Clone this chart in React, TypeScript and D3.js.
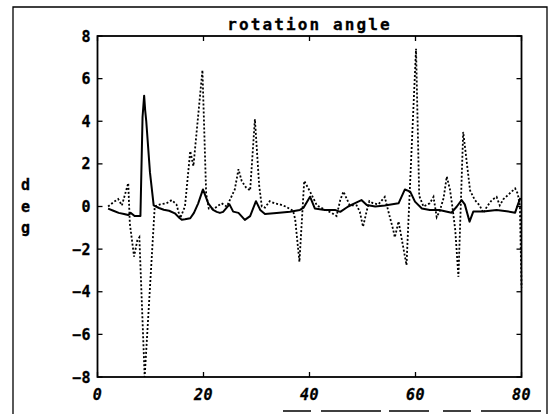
import React from "react";
import * as d3 from "d3";

const title = "rotation angle";
const yLabel = ["d", "e", "g"];
const xTicks = [0, 20, 40, 60, 80];
const yTicks = [-8, -6, -4, -2, 0, 2, 4, 6, 8];

const solidX = [2, 3, 4, 5, 5.8, 6.3, 7, 8, 8.1, 8.5, 8.8, 9.0, 9.2, 9.9, 10.6, 11.6, 12.5, 13.5, 14.6, 15.3, 15.9, 16.5, 17.5, 18.2, 19, 19.9, 20.9, 21.8, 22.5, 23.1, 23.7, 24.9, 25.6, 26.6, 27.8, 28.8, 29.9, 30.7, 31.6, 33.8, 36.3, 38.2, 38.9, 40.1, 41, 42.9, 44.8, 45.8, 47.3, 48.5, 49.8, 50.8, 52.4, 54.2, 56.8, 58, 59, 59.9, 61.2, 62.7, 64.5, 66.8, 67.8, 68.7, 69.3, 70.2, 70.9, 72.8, 75.3, 77.2, 78.8, 79.4, 79.8];
const solidY = [-0.1, -0.2, -0.3, -0.35, -0.4, -0.3, -0.45, -0.45, -0.45, 4.2, 5.2, 4.5, 4.0, 1.6, 0.05, -0.07, -0.15, -0.2, -0.32, -0.5, -0.62, -0.6, -0.55, -0.3, 0.15, 0.8, 0.15, -0.16, -0.25, -0.3, -0.25, 0.1, -0.24, -0.3, -0.63, -0.45, 0.25, -0.16, -0.35, -0.3, -0.25, -0.16, -0.05, 0.46, -0.09, -0.16, -0.16, -0.25, 0, 0.15, 0.3, 0.07, 0, 0.05, 0.15, 0.8, 0.7, 0.23, -0.09, -0.16, -0.16, -0.29, 0, 0.3, 0.1, -0.71, -0.24, -0.24, -0.16, -0.22, -0.29, 0.15, 0.4];

const dottedX = [2, 3, 3.9, 4.6, 5.8, 6.1, 6.9, 7.5, 7.9, 8.9, 9.9, 10.8, 11.8, 13, 14, 14.9, 15.6, 16.5, 17.5, 18.1, 19.8, 20.5, 21, 22, 23.4, 24.4, 25.9, 26.6, 27.2, 28, 28.8, 29.7, 30.5, 31, 31.6, 32.5, 33.4, 34.4, 35.5, 36.9, 37.3, 38.1, 39, 40.1, 41.4, 42.9, 44.2, 45.1, 45.8, 46.4, 47.6, 48.9, 49.5, 50.1, 50.8, 51.3, 52, 53, 54.2, 54.9, 55.8, 56.1, 56.8, 58.3, 60.1, 60.7, 61.5, 62.7, 63.4, 64, 64.6, 65.3, 65.9, 66.5, 66.9, 67.5, 68.1, 69, 70.3, 71.2, 72.1, 72.8, 73.5, 74.4, 75.3, 75.9, 76.6, 77.5, 78.8, 79.3, 79.7, 80];
const dottedY = [0.0, 0.2, 0.35, 0.05, 1.1, -0.8, -2.35, -1.6, -1.45, -8.0, -3.8, 0.0, 0.1, 0.15, 0.3, 0.1, -0.55, 0.0, 2.6, 1.9, 6.4, 0.6, -0.1, -0.1, 0.15, 0.0, 0.8, 1.75, 1.2, 0.9, 0.75, 4.1, 1.0, 0.0, -0.05, 0.25, 0.15, 0.1, 0.0, -0.2, -0.6, -2.6, 1.2, 0.7, 0.05, -0.15, -0.3, -0.45, 0.3, 0.7, 0.05, 0.05, -0.25, -0.95, -0.2, 0.25, 0.15, 0.1, 0.45, -0.25, -1.1, -1.45, -0.7, -2.75, 7.4, 0.5, 0.0, 0.15, 0.45, -0.5, -0.2, 0.4, 1.4, 0.8, 0.1, -1.1, -3.3, 3.5, 0.75, 0.3, 0.05, -0.3, 0.0, 0.3, 0.45, 0.05, 0.35, 0.55, 0.85, 0.6, 0.0, -3.8];

const W = 553, H = 414;
const L = 97.5, R = 521.5, T = 36, B = 377;

export default function App() {
  const x = d3.scaleLinear().domain([0, 80]).range([L, R]);
  const y = d3.scaleLinear().domain([-8, 8]).range([B, T]);
  const line = d3.line<[number, number]>().x(d => x(d[0])).y(d => y(d[1]));
  const solid = solidX.map((t, i) => [t, solidY[i]] as [number, number]);
  const dotted = dottedX.map((t, i) => [t, dottedY[i]] as [number, number]);
  const font = "'DejaVu Sans Mono', monospace";
  const tk = 5;
  return (
    <svg width={W} height={H} style={{ position: "absolute", left: 0, top: 0, background: "#fff" }}>
      <rect x={0} y={0} width={W} height={H} fill="#fff" />
      <path d={`M13,${H + 2} L13,7 L547,7 L547,${H + 2}`} fill="none" stroke="#000" strokeWidth={1.3} />
      <line x1={283} y1={411} x2={546} y2={411} stroke="#000" strokeWidth={1.5} strokeDasharray="28,10,60,8,40,14" />
      <text x={(L + R) / 2} y={30} textAnchor="middle" fontFamily={font} fontWeight="bold" fontSize={16} letterSpacing={2.1} fill="#000" stroke="#000" strokeWidth={0.3}>{title}</text>
      {yLabel.map((c, i) => (
        <text key={c} x={25.5} y={190 + i * 21.5} textAnchor="middle" fontFamily={font} fontWeight="bold" fontSize={15} fill="#000" stroke="#000" strokeWidth={0.3}>{c}</text>
      ))}
      <rect x={L} y={T} width={R - L} height={B - T} fill="none" stroke="#000" strokeWidth={1.8} />
      {yTicks.map(v => (
        <g key={"y" + v}>
          <line x1={L} x2={L + tk} y1={y(v)} y2={y(v)} stroke="#000" strokeWidth={1.3} />
          <line x1={R} x2={R - tk} y1={y(v)} y2={y(v)} stroke="#000" strokeWidth={1.3} />
          <text x={91} y={y(v) + 5.5} textAnchor="end" fontFamily={font} fontWeight="bold" fontSize={15} letterSpacing={0.5} fill="#000" stroke="#000" strokeWidth={0.3}>{v < 0 ? "\u2212" + Math.abs(v) : String(v)}</text>
        </g>
      ))}
      {xTicks.map(v => (
        <g key={"x" + v}>
          <line x1={x(v)} x2={x(v)} y1={B} y2={B - tk} stroke="#000" strokeWidth={1.3} />
          <line x1={x(v)} x2={x(v)} y1={T} y2={T + tk} stroke="#000" strokeWidth={1.3} />
          <text x={x(v)} y={400} textAnchor="middle" fontFamily={font} fontWeight="bold" fontStyle="italic" fontSize={15} letterSpacing={0.5} fill="#000" stroke="#000" strokeWidth={0.3}>{String(v)}</text>
        </g>
      ))}
      <path d={line(dotted) || ""} fill="none" stroke="#000" strokeWidth={1.8} strokeDasharray="2,2" />
      <path d={line(solid) || ""} fill="none" stroke="#000" strokeWidth={2} strokeLinejoin="round" />
    </svg>
  );
}
